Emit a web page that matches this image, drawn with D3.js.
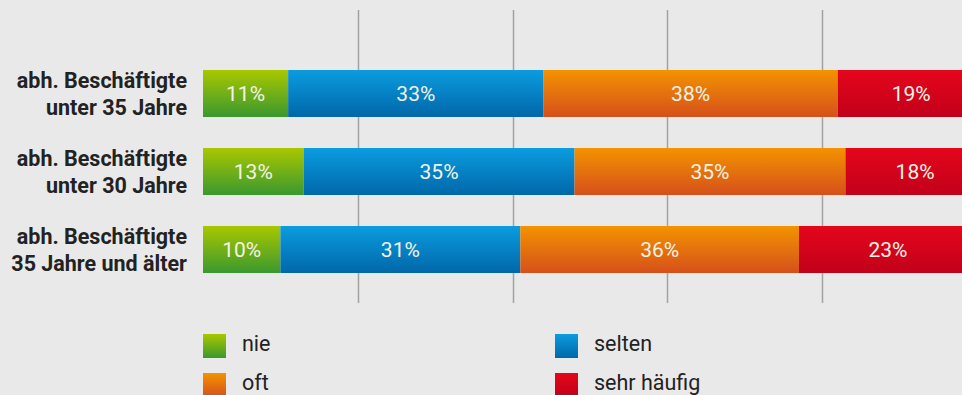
<!DOCTYPE html>
<html>
<head>
<meta charset="utf-8">
<script src="https://cdn.jsdelivr.net/npm/d3@7"></script>
<style>
  html, body { margin: 0; padding: 0; background: #e9e9e9; overflow: hidden; }
  svg { display: block; }
  text { font-family: Roboto, "Open Sans", sans-serif; }
  .cat { font-weight: bold; font-size: 21.5px; fill: #222; }
  .val { font-size: 21px; fill: #f3f3e6; }
  .leg { font-size: 21.5px; fill: #222; }
</style>
</head>
<body>
<svg id="chart" width="962" height="395"></svg>
<script>
// Share of answers per group (percent)
const categories = [
  ["abh. Beschäftigte", "unter 35 Jahre"],
  ["abh. Beschäftigte", "unter 30 Jahre"],
  ["abh. Beschäftigte", "35 Jahre und älter"]
];
const seriesNames = ["nie", "selten", "oft", "sehr häufig"];
const nie        = [11, 13, 10];
const selten     = [33, 35, 31];
const oft        = [38, 35, 36];
const sehrHaeufig = [19, 18, 23];
const gridTicks = [20, 40, 60, 80];

// top / bottom gradient stops per series
const colorStops = [
  ["#a9c700", "#3a982f"],
  ["#0b9ce0", "#0067a9"],
  ["#f39300", "#d6501b"],
  ["#e4061c", "#c2001a"]
];

const seriesValues = [nie, selten, oft, sehrHaeufig];
const rows = categories.map((c, i) => {
  let acc = 0;
  return seriesValues.map((vals, s) => {
    const seg = { row: i, s, v: vals[i], x0: acc, x1: acc + vals[i] };
    acc += vals[i];
    return seg;
  });
});

const svg = d3.select("#chart");
const x = d3.scaleLinear().domain([0, 100]).range([203, 977]);
const rowTop = d3.scaleLinear().domain([0, 1]).range([70, 148]);
const barH = 47;

// gradients
const defs = svg.append("defs");
colorStops.forEach((c, i) => {
  const g = defs.append("linearGradient").attr("id", "grad" + i)
    .attr("x1", 0).attr("y1", 0).attr("x2", 0).attr("y2", 1);
  g.append("stop").attr("offset", "0%").attr("stop-color", c[0]);
  g.append("stop").attr("offset", "100%").attr("stop-color", c[1]);
});

// vertical grid lines
svg.append("g").selectAll("line").data(gridTicks).join("line")
  .attr("x1", d => Math.round(x(d)) + 0.5).attr("x2", d => Math.round(x(d)) + 0.5)
  .attr("y1", 10).attr("y2", 303)
  .attr("stroke", "#a3a3a3").attr("stroke-width", 1.5);

// bars
const rowG = svg.append("g").selectAll("g").data(rows).join("g")
  .attr("transform", (d, i) => `translate(0,${rowTop(i)})`);

rowG.selectAll("rect").data(d => d).join("rect")
  .attr("x", d => x(d.x0))
  .attr("width", d => x(d.x1) - x(d.x0))
  .attr("y", 0).attr("height", barH)
  .attr("fill", d => `url(#grad${d.s})`);

rowG.selectAll("text").data(d => d).join("text")
  .attr("class", "val")
  .attr("x", d => (x(d.x0) + x(d.x1)) / 2)
  .attr("y", 31)
  .attr("text-anchor", "middle")
  .text(d => d.v + "%");

// category labels
const catG = svg.append("g").selectAll("text").data(categories).join("text")
  .attr("class", "cat")
  .attr("text-anchor", "end")
  .attr("transform", (d, i) => `translate(187,${rowTop(i)})`);
catG.selectAll("tspan").data(d => d).join("tspan")
  .attr("x", 0)
  .attr("y", (d, j) => 18 + j * 27)
  .text(d => d);

// legend
const legendPos = [
  { x: 203, y: 334 }, { x: 555, y: 334 },
  { x: 203, y: 373 }, { x: 555, y: 373 }
];
const leg = svg.append("g").selectAll("g").data(seriesNames).join("g")
  .attr("transform", (d, i) => `translate(${legendPos[i].x},${legendPos[i].y})`);
leg.append("rect").attr("width", 23).attr("height", 24)
  .attr("fill", (d, i) => `url(#grad${i})`);
leg.append("text").attr("class", "leg").attr("x", 39).attr("y", 17).text(d => d);
</script>
</body>
</html>
